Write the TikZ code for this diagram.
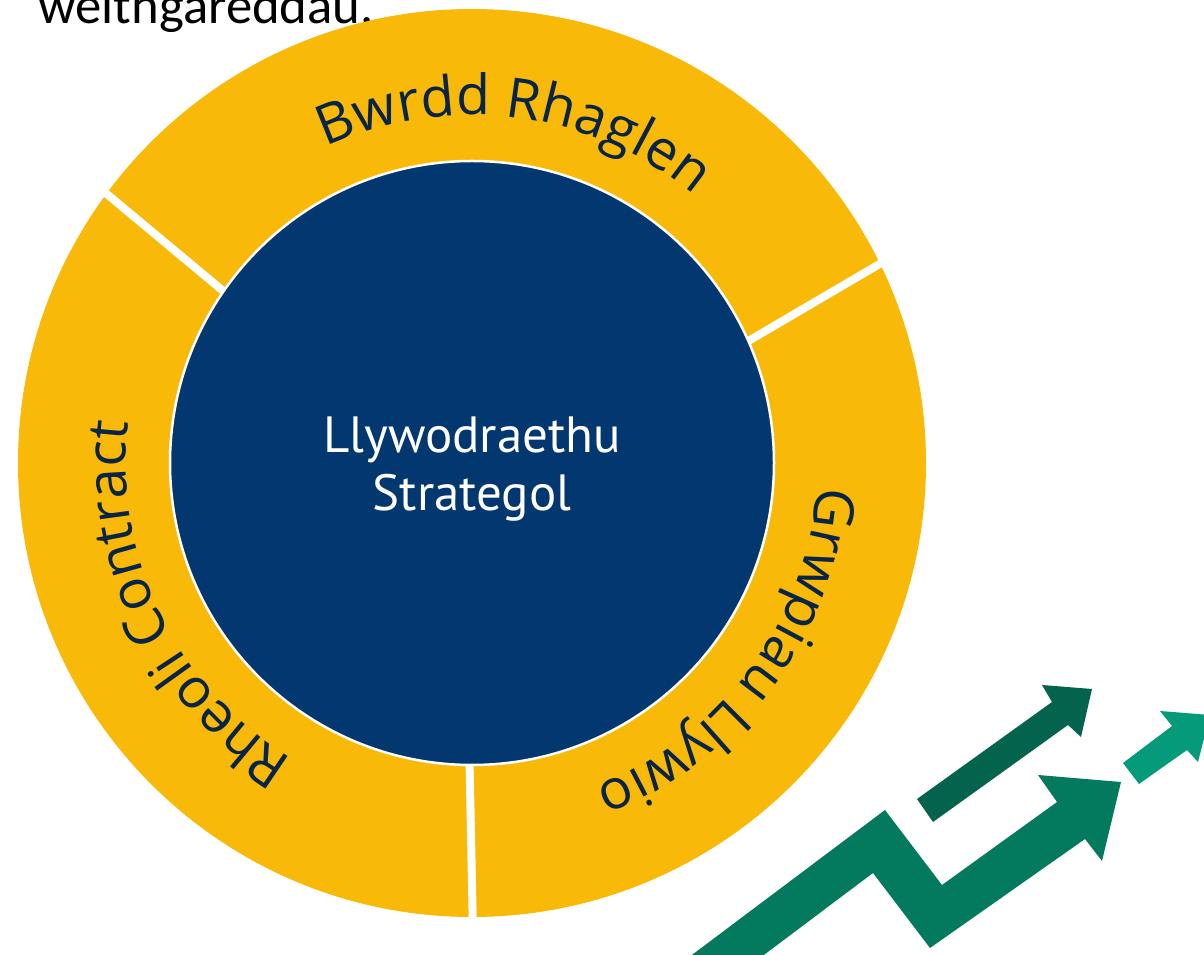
\documentclass[tikz,border=0pt]{standalone}
\usepackage{fontspec}
\usetikzlibrary{decorations.text}

\newfontfamily\opensans{Open Sans}
\newfontfamily\ptsans{PT Sans}
\newfontfamily\carlito{Carlito}

\definecolor{ringyellow}{RGB}{249,185,8}
\definecolor{govblue}{RGB}{3,55,112}
\definecolor{labelblue}{RGB}{8,36,70}
\definecolor{arrowgreen}{RGB}{3,122,94}
\definecolor{arrowdark}{RGB}{3,99,76}
\definecolor{arrowteal}{RGB}{4,154,122}

\newcommand{\ringfont}{\opensans\fontsize{31.5}{37}\selectfont}

\begin{document}
\begin{tikzpicture}[x=0.02cm, y=0.02cm,
    separator/.style={white, line width=0.16cm},
    ringlabel/.style={decorate, decoration={text along path, text align=center, text={#1}}}]
    \useasboundingbox (0,0) rectangle (1204,954);
    \clip (0,0) rectangle (1204,954);

    \node[anchor=base west, inner sep=0pt, font=\carlito\fontsize{30}{35}\selectfont] (note) at (38,930) {weithgareddau.};

    \coordinate (c) at (472,491);
    \fill[ringyellow] (c) circle (454);

    % gaps between the three parts of the ring
    \draw[separator] (78,784) -- (252,639);
    \draw[separator] (912,709) -- (716,594);
    \draw[separator] (469,220) -- (473,20);

    \begin{scope}[shift={(c)}]
        % labels run clockwise round the ring
        \path[ringlabel={|\ringfont\color{labelblue}|Bwrdd Rhaglen}]
            (142.6:348) arc[start angle=142.6, end angle=22.6, radius=348];
        \path[ringlabel={|\ringfont\color{labelblue}|Grwpiau Llywio}]
            (21.5:346) arc[start angle=21.5, end angle=-94.5, radius=346];
        \path[ringlabel={|\ringfont\color{labelblue}|Rheoli Contract}]
            (266:346) arc[start angle=266, end angle=146, radius=346];
    \end{scope}

    \fill[govblue, draw=white, line width=0.05cm] (c) circle (302);
    \node[align=center, text=white, font=\ptsans\fontsize{29}{33}\selectfont] (gov) at (472,485) {Llywodraethu\\Strategol};

    % arrows
    \fill[arrowgreen] (560,-100) -- (885,144) -- (942,69) -- (1057,152) -- (1038,179) -- (1121,172)
        -- (1102,93) -- (1085,115) -- (930,6) -- (873,81) -- (632,-100) -- cycle;
    \fill[arrowdark] (917,155) -- (1052,252) -- (1042,269) -- (1092,265) -- (1081,217) -- (1068,229) -- (933,132) -- cycle;
    \fill[arrowteal] (1123,191) -- (1172,228) -- (1160,243) -- (1210,239) -- (1198,192) -- (1187,204) -- (1139,170) -- cycle;
\end{tikzpicture}
\end{document}
